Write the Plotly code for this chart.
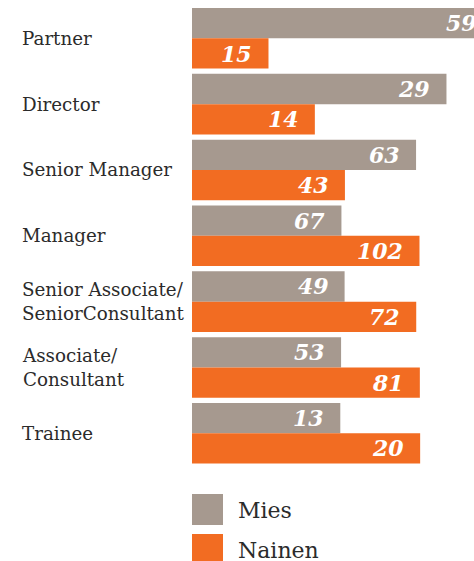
import plotly.graph_objects as go

# ---- data ----
categories = ["Partner", "Director", "Senior Manager", "Manager",
              "Senior Associate/<br>SeniorConsultant", "Associate/<br>Consultant", "Trainee"]
mies = [59, 29, 63, 67, 49, 53, 13]
nainen = [15, 14, 43, 102, 72, 81, 20]
series_names = ["Mies", "Nainen"]

# each row in the original graphic uses its own scale (axis maximum per row)
axis_max = [60.4, 35.1, 86.6, 138.1, 98.9, 109.5, 27.0]

GRAY = "#A6998F"
ORANGE = "#F26C22"
TEXT = "#2b2b2b"
W, H = 500, 561   # figure a bit wider than the 474px window: the top bar runs off the edge

fig = go.Figure()
layout_axes = {}
annotations = []

x_dom = [192 / W, 1.0]
for i, cat in enumerate(categories):
    xa = "x" if i == 0 else f"x{i+1}"
    key = "xaxis" if i == 0 else f"xaxis{i+1}"
    for name, vals, col, shift in [(series_names[0], mies, GRAY, 15.2),
                                   (series_names[1], nainen, ORANGE, -15.2)]:
        fig.add_trace(go.Bar(x=[vals[i]], y=[cat], orientation="h", name=name,
                             marker=dict(color=col, line=dict(width=0)),
                             xaxis=xa, yaxis="y", showlegend=False,
                             hoverinfo="skip"))
        annotations.append(dict(x=vals[i], y=cat, xref=xa, yref="y",
                                text=str(vals[i]), showarrow=False,
                                xanchor="right", xshift=-14, yshift=shift,
                                font=dict(family="DejaVu Serif", size=22,
                                          color="white", weight="bold",
                                          style="italic")))
    ax = dict(domain=x_dom, range=[0, axis_max[i]], visible=False,
              fixedrange=True, anchor="y")
    if i > 0:
        ax["overlaying"] = "x"
    layout_axes[key] = ax
    annotations.append(dict(x=20 / W, y=cat, xref="paper", yref="y",
                            text=cat, showarrow=False, xanchor="left",
                            align="left", yshift=0,
                            font=dict(family="DejaVu Serif", size=18.3, color=TEXT)))

# legend drawn manually (large square swatches)
shapes = []
legend_rows = [(series_names[0], GRAY, 494), (series_names[1], ORANGE, 534)]
for name, col, top in legend_rows:
    shapes.append(dict(type="rect", xref="paper", yref="paper",
                       x0=192 / W, x1=223 / W, y0=1 - (top + 31) / H, y1=1 - top / H,
                       fillcolor=col, line=dict(width=0)))
    annotations.append(dict(x=236 / W, y=1 - (top + 16) / H, xref="paper", yref="paper",
                            text=name, showarrow=False, xanchor="left", yanchor="middle",
                            font=dict(family="DejaVu Serif", size=22, color=TEXT)))

fig.update_layout(
    width=W, height=H,
    margin=dict(l=0, r=0, t=0, b=0),
    paper_bgcolor="white", plot_bgcolor="white",
    barmode="group", bargap=0.08, bargroupgap=0,
    yaxis=dict(domain=[1 - 466.2 / H, 1 - 5.4 / H], type="category",
               categoryorder="array", categoryarray=categories,
               range=[6.5, -0.5], visible=False, fixedrange=True),
    annotations=annotations, shapes=shapes,
    showlegend=False,
    **layout_axes,
)

fig.write_html("out.html", config={"displayModeBar": False},
               post_script="document.body.style.margin='0';"
                           "document.body.style.overflow='hidden';"
                           "document.documentElement.style.overflow='hidden';")
